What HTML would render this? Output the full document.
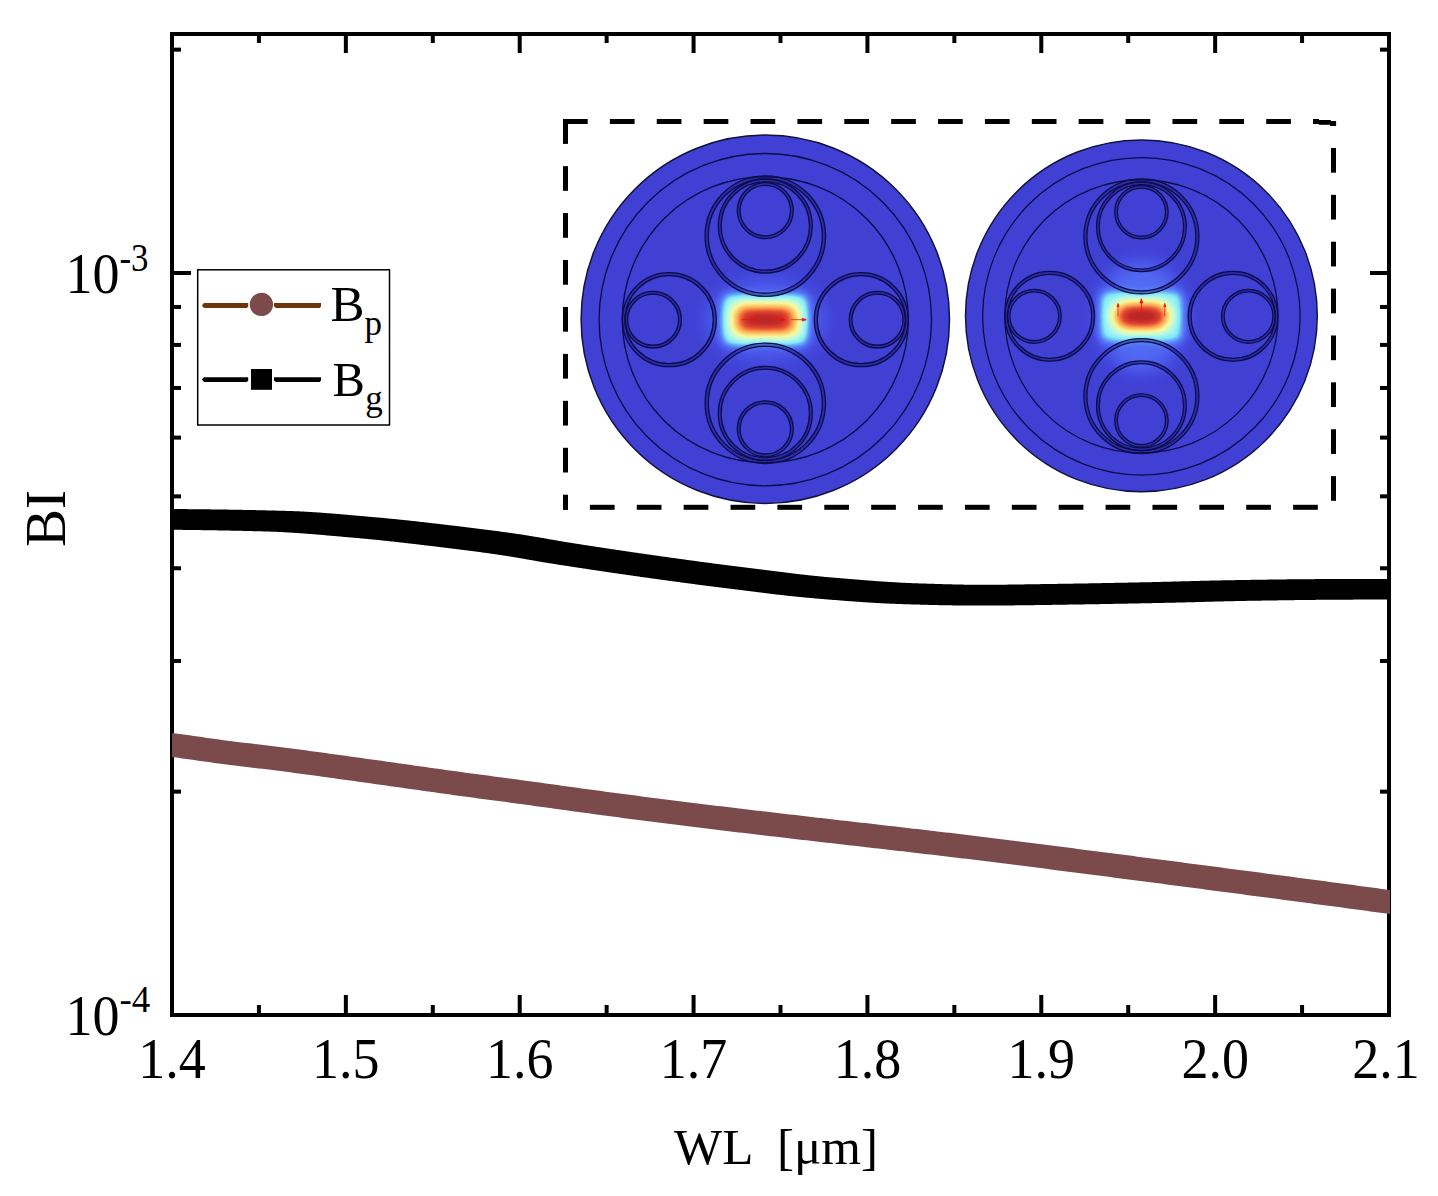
<!DOCTYPE html>
<html lang="en"><head><meta charset="utf-8"><title>BI vs WL</title>
<style>html,body{margin:0;padding:0;background:#fff}svg{display:block}text{font-family:"Liberation Serif",serif;fill:#000}</style></head><body>
<svg width="1438" height="1196" viewBox="0 0 1438 1196">
<rect width="1438" height="1196" fill="#fff"/>
<defs>
<filter id="jet" filterUnits="userSpaceOnUse" x="-110" y="-100" width="220" height="200" color-interpolation-filters="sRGB">
<feComponentTransfer><feFuncR type="table" tableValues="0.251 0.255 0.259 0.265 0.270 0.277 0.284 0.291 0.296 0.302 0.308 0.313 0.318 0.323 0.328 0.333 0.339 0.344 0.350 0.358 0.365 0.372 0.380 0.387 0.397 0.412 0.427 0.442 0.457 0.472 0.487 0.502 0.519 0.537 0.555 0.573 0.591 0.609 0.627 0.646 0.664 0.682 0.700 0.718 0.736 0.753 0.770 0.787 0.803 0.820 0.836 0.853 0.870 0.886 0.903 0.919 0.936 0.952 0.962 0.966 0.969 0.973 0.976 0.979 0.983 0.986 0.988 0.987 0.987 0.986 0.985 0.985 0.984 0.983 0.983 0.982 0.981 0.980 0.975 0.969 0.962 0.956 0.950 0.944 0.934 0.923 0.911 0.900 0.888 0.874 0.858 0.842 0.825 0.809 0.783 0.753 0.735 0.723 0.717 0.711 0.706"/><feFuncG type="table" tableValues="0.251 0.261 0.271 0.284 0.297 0.310 0.324 0.339 0.352 0.365 0.378 0.391 0.406 0.422 0.438 0.454 0.470 0.485 0.509 0.537 0.565 0.592 0.620 0.647 0.676 0.709 0.742 0.775 0.807 0.840 0.873 0.905 0.924 0.928 0.933 0.937 0.942 0.946 0.951 0.956 0.960 0.965 0.969 0.974 0.978 0.980 0.980 0.980 0.980 0.980 0.980 0.980 0.980 0.980 0.980 0.980 0.980 0.980 0.973 0.959 0.945 0.930 0.916 0.901 0.887 0.873 0.857 0.836 0.815 0.795 0.774 0.753 0.733 0.712 0.691 0.671 0.650 0.630 0.599 0.568 0.537 0.506 0.475 0.444 0.413 0.382 0.351 0.321 0.290 0.266 0.250 0.234 0.217 0.201 0.183 0.165 0.159 0.156 0.154 0.151 0.149"/><feFuncB type="table" tableValues="0.831 0.841 0.851 0.864 0.877 0.889 0.900 0.911 0.918 0.925 0.933 0.940 0.945 0.950 0.954 0.958 0.963 0.967 0.970 0.972 0.974 0.975 0.977 0.979 0.980 0.980 0.980 0.980 0.980 0.980 0.980 0.980 0.977 0.969 0.962 0.954 0.946 0.939 0.931 0.924 0.916 0.909 0.901 0.894 0.886 0.873 0.853 0.833 0.814 0.794 0.775 0.755 0.735 0.716 0.696 0.676 0.657 0.637 0.618 0.599 0.580 0.560 0.541 0.522 0.503 0.484 0.466 0.453 0.439 0.425 0.411 0.398 0.384 0.370 0.356 0.343 0.329 0.315 0.303 0.290 0.278 0.265 0.253 0.240 0.229 0.219 0.209 0.199 0.189 0.183 0.179 0.176 0.173 0.170 0.165 0.161 0.158 0.156 0.154 0.151 0.149"/></feComponentTransfer>
</filter>
<filter id="bW" filterUnits="userSpaceOnUse" x="-160" y="-160" width="320" height="320" color-interpolation-filters="sRGB"><feGaussianBlur stdDeviation="10 10"/></filter>
<filter id="bH" filterUnits="userSpaceOnUse" x="-160" y="-160" width="320" height="320" color-interpolation-filters="sRGB"><feGaussianBlur stdDeviation="4.5 4.5"/></filter>
<filter id="bCL" filterUnits="userSpaceOnUse" x="-160" y="-160" width="320" height="320" color-interpolation-filters="sRGB"><feGaussianBlur stdDeviation="7.5 6.5"/></filter>
<filter id="bCR" filterUnits="userSpaceOnUse" x="-160" y="-160" width="320" height="320" color-interpolation-filters="sRGB"><feGaussianBlur stdDeviation="7.5 6.2"/></filter>
<filter id="bB" filterUnits="userSpaceOnUse" x="-160" y="-160" width="320" height="320" color-interpolation-filters="sRGB"><feGaussianBlur stdDeviation="7 5"/></filter>
<clipPath id="notTubes"><path clip-rule="evenodd" d="M-200,-200H200V200H-200ZM-60.2,-83.6a60.2,60.2 0 1,0 120.4,0a60.2,60.2 0 1,0 -120.4,0ZM-60.2,83.6a60.2,60.2 0 1,0 120.4,0a60.2,60.2 0 1,0 -120.4,0ZM-143,0a47,47 0 1,0 94,0a47,47 0 1,0 -94,0ZM49,0a47,47 0 1,0 94,0a47,47 0 1,0 -94,0Z"/></clipPath>
</defs>
<g transform="translate(765.3,319.7)"><circle cy="-0.5" r="184.2" fill="rgb(64,64,212)" stroke="#12123c" stroke-width="1.5"/>
<g filter="url(#jet)"><rect x="-300" y="-300" width="600" height="600" fill="#000"/><g filter="url(#bW)"><ellipse rx="60" ry="40" fill="#fff" fill-opacity="0.1"/></g><g filter="url(#bH)"><rect x="-43" y="-26" width="86" height="52" rx="7" fill="#fff" fill-opacity="0.27" clip-path="url(#notTubes)"/></g><g filter="url(#bCL)"><rect x="-32" y="-15.5" width="64" height="31.0" rx="6" fill="#fff" fill-opacity="0.9"/></g><g filter="url(#bB)"><ellipse rx="18" ry="5" fill="#fff" fill-opacity="0.75"/></g></g><g stroke="#f01010" stroke-width="0.8" fill="#f01010"><path d="M-24,0H-10"/><path d="M-11,-1.2L-8,0L-11,1.2z"/><path d="M0,0H18"/><path d="M16,-1.6L20,0L16,1.6z"/><path d="M26,0H39"/><path d="M37,-1.4L41,0L37,1.4z"/></g>
<g fill="none" stroke="#0c0c48" stroke-width="1.35">
<circle r="166.2"/><circle r="143"/>
</g>
<g fill="none" stroke="#0c0c48" stroke-width="1.3">
<circle cy="-83.6" r="58.6" stroke="#14146e" stroke-opacity="0.45" stroke-width="3.200000000000003"/><circle cy="-83.6" r="60.2"/><circle cy="-83.6" r="57"/>
<circle cy="-93.7" r="45.6" stroke="#14146e" stroke-opacity="0.45" stroke-width="2.799999999999997"/><circle cy="-93.7" r="47"/><circle cy="-93.7" r="44.2"/>
<circle cy="-109.1" r="26.6" stroke="#14146e" stroke-opacity="0.45" stroke-width="2.8000000000000007"/><circle cy="-109.1" r="28"/><circle cy="-109.1" r="25.2"/>
<circle cx="-96" r="45.5" stroke="#14146e" stroke-opacity="0.45" stroke-width="3"/><circle cx="-96" r="47"/><circle cx="-96" r="44"/>
<circle cx="-112.2" r="26.9" stroke="#14146e" stroke-opacity="0.45" stroke-width="2.8000000000000007"/><circle cx="-112.2" r="28.3"/><circle cx="-112.2" r="25.5"/>
<circle cy="83.6" r="58.6" stroke="#14146e" stroke-opacity="0.45" stroke-width="3.200000000000003"/><circle cy="83.6" r="60.2"/><circle cy="83.6" r="57"/>
<circle cy="93.7" r="45.6" stroke="#14146e" stroke-opacity="0.45" stroke-width="2.799999999999997"/><circle cy="93.7" r="47"/><circle cy="93.7" r="44.2"/>
<circle cy="109.1" r="26.6" stroke="#14146e" stroke-opacity="0.45" stroke-width="2.8000000000000007"/><circle cy="109.1" r="28"/><circle cy="109.1" r="25.2"/>
<circle cx="96" r="45.5" stroke="#14146e" stroke-opacity="0.45" stroke-width="3"/><circle cx="96" r="47"/><circle cx="96" r="44"/>
<circle cx="112.2" r="26.9" stroke="#14146e" stroke-opacity="0.45" stroke-width="2.8000000000000007"/><circle cx="112.2" r="28.3"/><circle cx="112.2" r="25.5"/>
</g></g>
<g transform="translate(1141.4,316.3) scale(0.955)"><circle cy="-0.5" r="184.2" fill="rgb(64,64,212)" stroke="#12123c" stroke-width="1.5"/>
<g filter="url(#jet)"><rect x="-300" y="-300" width="600" height="600" fill="#000"/><g filter="url(#bW)"><ellipse rx="46" ry="58" fill="#fff" fill-opacity="0.13"/></g><g filter="url(#bH)"><rect x="-43.5" y="-26" width="87.0" height="52" rx="7" fill="#fff" fill-opacity="0.27" clip-path="url(#notTubes)"/></g><g filter="url(#bCR)"><rect x="-29.5" y="-14.6" width="59.0" height="29.2" rx="14" fill="#fff" fill-opacity="0.9"/></g><g filter="url(#bB)"><ellipse rx="14" ry="6" fill="#fff" fill-opacity="0.75"/></g></g><g stroke="#f01010" stroke-width="0.8" fill="#f01010"><path d="M-24.5,0V-11"/><path d="M-25.6,-10L-24.5,-13.5L-23.4,-10z"/><path d="M0,0V-15"/><path d="M-1.5,-14L0,-18.5L1.5,-14z"/><path d="M24.5,0V-11"/><path d="M23.4,-10L24.5,-13.5L25.6,-10z"/></g>
<g fill="none" stroke="#0c0c48" stroke-width="1.35">
<circle r="166.2"/><circle r="143"/>
</g>
<g fill="none" stroke="#0c0c48" stroke-width="1.3">
<circle cy="-83.6" r="58.6" stroke="#14146e" stroke-opacity="0.45" stroke-width="3.200000000000003"/><circle cy="-83.6" r="60.2"/><circle cy="-83.6" r="57"/>
<circle cy="-93.7" r="45.6" stroke="#14146e" stroke-opacity="0.45" stroke-width="2.799999999999997"/><circle cy="-93.7" r="47"/><circle cy="-93.7" r="44.2"/>
<circle cy="-109.1" r="26.6" stroke="#14146e" stroke-opacity="0.45" stroke-width="2.8000000000000007"/><circle cy="-109.1" r="28"/><circle cy="-109.1" r="25.2"/>
<circle cx="-96" r="45.5" stroke="#14146e" stroke-opacity="0.45" stroke-width="3"/><circle cx="-96" r="47"/><circle cx="-96" r="44"/>
<circle cx="-112.2" r="26.9" stroke="#14146e" stroke-opacity="0.45" stroke-width="2.8000000000000007"/><circle cx="-112.2" r="28.3"/><circle cx="-112.2" r="25.5"/>
<circle cy="83.6" r="58.6" stroke="#14146e" stroke-opacity="0.45" stroke-width="3.200000000000003"/><circle cy="83.6" r="60.2"/><circle cy="83.6" r="57"/>
<circle cy="93.7" r="45.6" stroke="#14146e" stroke-opacity="0.45" stroke-width="2.799999999999997"/><circle cy="93.7" r="47"/><circle cy="93.7" r="44.2"/>
<circle cy="109.1" r="26.6" stroke="#14146e" stroke-opacity="0.45" stroke-width="2.8000000000000007"/><circle cy="109.1" r="28"/><circle cy="109.1" r="25.2"/>
<circle cx="96" r="45.5" stroke="#14146e" stroke-opacity="0.45" stroke-width="3"/><circle cx="96" r="47"/><circle cx="96" r="44"/>
<circle cx="112.2" r="26.9" stroke="#14146e" stroke-opacity="0.45" stroke-width="2.8000000000000007"/><circle cx="112.2" r="28.3"/><circle cx="112.2" r="25.5"/>
</g></g>
<g fill="#000">
<rect x="563.00" y="119.00" width="24.70" height="5"/>
<rect x="609.88" y="119.00" width="24.70" height="5"/>
<rect x="656.76" y="119.00" width="24.70" height="5"/>
<rect x="703.64" y="119.00" width="24.70" height="5"/>
<rect x="750.52" y="119.00" width="24.70" height="5"/>
<rect x="797.40" y="119.00" width="24.70" height="5"/>
<rect x="844.28" y="119.00" width="24.70" height="5"/>
<rect x="891.16" y="119.00" width="24.70" height="5"/>
<rect x="938.04" y="119.00" width="24.70" height="5"/>
<rect x="984.92" y="119.00" width="24.70" height="5"/>
<rect x="1031.80" y="119.00" width="24.70" height="5"/>
<rect x="1078.68" y="119.00" width="24.70" height="5"/>
<rect x="1125.56" y="119.00" width="24.70" height="5"/>
<rect x="1172.44" y="119.00" width="24.70" height="5"/>
<rect x="1219.32" y="119.00" width="24.70" height="5"/>
<rect x="1266.20" y="119.00" width="24.70" height="5"/>
<rect x="1313" y="119" width="6" height="5"/><rect x="1318.8" y="120" width="12" height="4.8"/><rect x="1330" y="121" width="6.1" height="5"/>
<rect x="1331.00" y="147.96" width="5" height="24.70"/>
<rect x="1331.00" y="194.84" width="5" height="24.70"/>
<rect x="1331.00" y="241.72" width="5" height="24.70"/>
<rect x="1331.00" y="288.60" width="5" height="24.70"/>
<rect x="1331.00" y="335.48" width="5" height="24.70"/>
<rect x="1331.00" y="382.36" width="5" height="24.70"/>
<rect x="1331.00" y="429.24" width="5" height="24.70"/>
<rect x="1331.00" y="476.12" width="5" height="24.70"/>
<rect x="1293.10" y="504.80" width="24.70" height="5"/>
<rect x="1246.22" y="504.80" width="24.70" height="5"/>
<rect x="1199.34" y="504.80" width="24.70" height="5"/>
<rect x="1152.46" y="504.80" width="24.70" height="5"/>
<rect x="1105.58" y="504.80" width="24.70" height="5"/>
<rect x="1058.70" y="504.80" width="24.70" height="5"/>
<rect x="1011.82" y="504.80" width="24.70" height="5"/>
<rect x="964.94" y="504.80" width="24.70" height="5"/>
<rect x="918.06" y="504.80" width="24.70" height="5"/>
<rect x="871.18" y="504.80" width="24.70" height="5"/>
<rect x="824.30" y="504.80" width="24.70" height="5"/>
<rect x="777.42" y="504.80" width="24.70" height="5"/>
<rect x="730.54" y="504.80" width="24.70" height="5"/>
<rect x="683.66" y="504.80" width="24.70" height="5"/>
<rect x="636.78" y="504.80" width="24.70" height="5"/>
<rect x="589.90" y="504.80" width="24.70" height="5"/>
<rect x="563.00" y="504.80" width="4.72" height="5"/>
<rect x="563.00" y="119.20" width="5" height="24.70"/>
<rect x="563.00" y="166.14" width="5" height="24.70"/>
<rect x="563.00" y="213.08" width="5" height="24.70"/>
<rect x="563.00" y="260.02" width="5" height="24.70"/>
<rect x="563.00" y="306.96" width="5" height="24.70"/>
<rect x="563.00" y="353.90" width="5" height="24.70"/>
<rect x="563.00" y="400.84" width="5" height="24.70"/>
<rect x="563.00" y="447.78" width="5" height="24.70"/>
<rect x="563.00" y="494.72" width="5" height="15.08"/>
</g>
<rect x="172.0" y="34.0" width="1217.0" height="981.0" fill="none" stroke="#000" stroke-width="4"/>
<g fill="#000">
<rect x="256.93" y="36.0" width="4" height="7"/>
<rect x="256.93" y="1005.0" width="4" height="8"/>
<rect x="343.86" y="36.0" width="4" height="17"/>
<rect x="343.86" y="995.0" width="4" height="18"/>
<rect x="430.79" y="36.0" width="4" height="7"/>
<rect x="430.79" y="1005.0" width="4" height="8"/>
<rect x="517.71" y="36.0" width="4" height="17"/>
<rect x="517.71" y="995.0" width="4" height="18"/>
<rect x="604.64" y="36.0" width="4" height="7"/>
<rect x="604.64" y="1005.0" width="4" height="8"/>
<rect x="691.57" y="36.0" width="4" height="17"/>
<rect x="691.57" y="995.0" width="4" height="18"/>
<rect x="778.50" y="36.0" width="4" height="7"/>
<rect x="778.50" y="1005.0" width="4" height="8"/>
<rect x="865.43" y="36.0" width="4" height="17"/>
<rect x="865.43" y="995.0" width="4" height="18"/>
<rect x="952.36" y="36.0" width="4" height="7"/>
<rect x="952.36" y="1005.0" width="4" height="8"/>
<rect x="1039.29" y="36.0" width="4" height="17"/>
<rect x="1039.29" y="995.0" width="4" height="18"/>
<rect x="1126.21" y="36.0" width="4" height="7"/>
<rect x="1126.21" y="1005.0" width="4" height="8"/>
<rect x="1213.14" y="36.0" width="4" height="17"/>
<rect x="1213.14" y="995.0" width="4" height="18"/>
<rect x="1300.07" y="36.0" width="4" height="7"/>
<rect x="1300.07" y="1005.0" width="4" height="8"/>
<rect x="174.0" y="47.64" width="7" height="4"/>
<rect x="1380.0" y="47.64" width="7" height="4"/>
<rect x="174.0" y="271.00" width="17" height="4"/>
<rect x="1370.0" y="271.00" width="17" height="4"/>
<rect x="174.0" y="789.64" width="7" height="4"/>
<rect x="1380.0" y="789.64" width="7" height="4"/>
<rect x="174.0" y="658.98" width="7" height="4"/>
<rect x="1380.0" y="658.98" width="7" height="4"/>
<rect x="174.0" y="566.27" width="7" height="4"/>
<rect x="1380.0" y="566.27" width="7" height="4"/>
<rect x="174.0" y="494.36" width="7" height="4"/>
<rect x="1380.0" y="494.36" width="7" height="4"/>
<rect x="174.0" y="435.61" width="7" height="4"/>
<rect x="1380.0" y="435.61" width="7" height="4"/>
<rect x="174.0" y="385.94" width="7" height="4"/>
<rect x="1380.0" y="385.94" width="7" height="4"/>
<rect x="174.0" y="342.91" width="7" height="4"/>
<rect x="1380.0" y="342.91" width="7" height="4"/>
<rect x="174.0" y="304.95" width="7" height="4"/>
<rect x="1380.0" y="304.95" width="7" height="4"/>
</g>
<clipPath id="cp"><rect x="172.0" y="34.0" width="1218.0" height="981.0"/></clipPath>
<g clip-path="url(#cp)">
<polygon fill="#000" points="160.0,509.00 161.0,509.00 162.0,509.00 163.0,509.00 164.0,509.00 165.0,509.00 166.0,509.00 167.0,509.00 168.0,509.00 169.0,509.00 170.0,509.00 171.0,509.01 172.0,509.01 173.0,509.02 174.0,509.02 175.0,509.03 176.0,509.04 177.0,509.04 178.0,509.05 179.0,509.06 180.0,509.06 181.0,509.07 182.0,509.08 183.0,509.09 184.0,509.09 185.0,509.10 186.0,509.11 187.0,509.12 188.0,509.13 189.0,509.14 190.0,509.15 191.0,509.16 192.0,509.17 193.0,509.18 194.0,509.19 195.0,509.20 196.0,509.21 197.0,509.22 198.0,509.23 199.0,509.24 200.0,509.25 201.0,509.26 202.0,509.27 203.0,509.29 204.0,509.30 205.0,509.31 206.0,509.32 207.0,509.33 208.0,509.34 209.0,509.36 210.0,509.37 211.0,509.38 212.0,509.39 213.0,509.41 214.0,509.42 215.0,509.43 216.0,509.45 217.0,509.46 218.0,509.47 219.0,509.49 220.0,509.50 221.0,509.52 222.0,509.53 223.0,509.55 224.0,509.56 225.0,509.58 226.0,509.59 227.0,509.61 228.0,509.62 229.0,509.64 230.0,509.65 231.0,509.67 232.0,509.68 233.0,509.70 234.0,509.72 235.0,509.73 236.0,509.75 237.0,509.77 238.0,509.79 239.0,509.80 240.0,509.82 241.0,509.84 242.0,509.86 243.0,509.88 244.0,509.89 245.0,509.91 246.0,509.93 247.0,509.95 248.0,509.97 249.0,509.99 250.0,510.01 251.0,510.03 252.0,510.05 253.0,510.07 254.0,510.09 255.0,510.11 256.0,510.13 257.0,510.16 258.0,510.18 259.0,510.20 260.0,510.22 261.0,510.24 262.0,510.27 263.0,510.29 264.0,510.31 265.0,510.33 266.0,510.36 267.0,510.38 268.0,510.41 269.0,510.43 270.0,510.45 271.0,510.48 272.0,510.50 273.0,510.53 274.0,510.55 275.0,510.58 276.0,510.60 277.0,510.63 278.0,510.66 279.0,510.68 280.0,510.71 281.0,510.74 282.0,510.77 283.0,510.79 284.0,510.82 285.0,510.85 286.0,510.88 287.0,510.91 288.0,510.94 289.0,510.97 290.0,511.00 291.0,511.03 292.0,511.07 293.0,511.11 294.0,511.15 295.0,511.19 296.0,511.23 297.0,511.27 298.0,511.32 299.0,511.37 300.0,511.41 301.0,511.46 302.0,511.51 303.0,511.56 304.0,511.62 305.0,511.67 306.0,511.73 307.0,511.78 308.0,511.84 309.0,511.90 310.0,511.96 311.0,512.02 312.0,512.08 313.0,512.15 314.0,512.21 315.0,512.28 316.0,512.34 317.0,512.41 318.0,512.48 319.0,512.55 320.0,512.62 321.0,512.69 322.0,512.76 323.0,512.83 324.0,512.91 325.0,512.98 326.0,513.06 327.0,513.13 328.0,513.21 329.0,513.29 330.0,513.37 331.0,513.44 332.0,513.52 333.0,513.60 334.0,513.69 335.0,513.77 336.0,513.85 337.0,513.93 338.0,514.01 339.0,514.10 340.0,514.18 341.0,514.27 342.0,514.35 343.0,514.44 344.0,514.52 345.0,514.61 346.0,514.69 347.0,514.78 348.0,514.87 349.0,514.95 350.0,515.04 351.0,515.13 352.0,515.22 353.0,515.30 354.0,515.39 355.0,515.48 356.0,515.57 357.0,515.66 358.0,515.75 359.0,515.84 360.0,515.92 361.0,516.01 362.0,516.10 363.0,516.19 364.0,516.28 365.0,516.37 366.0,516.46 367.0,516.54 368.0,516.63 369.0,516.72 370.0,516.81 371.0,516.90 372.0,516.98 373.0,517.07 374.0,517.16 375.0,517.24 376.0,517.33 377.0,517.42 378.0,517.51 379.0,517.60 380.0,517.69 381.0,517.78 382.0,517.87 383.0,517.96 384.0,518.05 385.0,518.15 386.0,518.24 387.0,518.34 388.0,518.43 389.0,518.53 390.0,518.63 391.0,518.72 392.0,518.82 393.0,518.92 394.0,519.02 395.0,519.12 396.0,519.22 397.0,519.32 398.0,519.42 399.0,519.52 400.0,519.63 401.0,519.73 402.0,519.83 403.0,519.94 404.0,520.04 405.0,520.15 406.0,520.25 407.0,520.36 408.0,520.47 409.0,520.57 410.0,520.68 411.0,520.79 412.0,520.90 413.0,521.01 414.0,521.12 415.0,521.23 416.0,521.34 417.0,521.45 418.0,521.56 419.0,521.67 420.0,521.78 421.0,521.89 422.0,522.01 423.0,522.12 424.0,522.23 425.0,522.35 426.0,522.46 427.0,522.57 428.0,522.69 429.0,522.80 430.0,522.92 431.0,523.03 432.0,523.15 433.0,523.26 434.0,523.38 435.0,523.50 436.0,523.61 437.0,523.73 438.0,523.85 439.0,523.96 440.0,524.08 441.0,524.20 442.0,524.32 443.0,524.44 444.0,524.55 445.0,524.67 446.0,524.79 447.0,524.91 448.0,525.03 449.0,525.15 450.0,525.27 451.0,525.38 452.0,525.50 453.0,525.62 454.0,525.74 455.0,525.86 456.0,525.98 457.0,526.10 458.0,526.22 459.0,526.34 460.0,526.46 461.0,526.58 462.0,526.70 463.0,526.82 464.0,526.94 465.0,527.06 466.0,527.18 467.0,527.30 468.0,527.42 469.0,527.54 470.0,527.67 471.0,527.79 472.0,527.91 473.0,528.03 474.0,528.16 475.0,528.28 476.0,528.40 477.0,528.53 478.0,528.65 479.0,528.78 480.0,528.90 481.0,529.03 482.0,529.16 483.0,529.28 484.0,529.41 485.0,529.54 486.0,529.66 487.0,529.79 488.0,529.92 489.0,530.05 490.0,530.18 491.0,530.31 492.0,530.44 493.0,530.57 494.0,530.70 495.0,530.84 496.0,530.97 497.0,531.10 498.0,531.24 499.0,531.37 500.0,531.50 501.0,531.64 502.0,531.78 503.0,531.91 504.0,532.05 505.0,532.19 506.0,532.33 507.0,532.46 508.0,532.60 509.0,532.74 510.0,532.88 511.0,533.03 512.0,533.17 513.0,533.31 514.0,533.45 515.0,533.60 516.0,533.74 517.0,533.89 518.0,534.03 519.0,534.18 520.0,534.33 521.0,534.47 522.0,534.62 523.0,534.78 524.0,534.93 525.0,535.08 526.0,535.24 527.0,535.40 528.0,535.56 529.0,535.72 530.0,535.88 531.0,536.05 532.0,536.21 533.0,536.38 534.0,536.55 535.0,536.71 536.0,536.88 537.0,537.05 538.0,537.23 539.0,537.40 540.0,537.57 541.0,537.74 542.0,537.92 543.0,538.09 544.0,538.26 545.0,538.44 546.0,538.61 547.0,538.79 548.0,538.96 549.0,539.14 550.0,539.31 551.0,539.49 552.0,539.66 553.0,539.84 554.0,540.01 555.0,540.19 556.0,540.36 557.0,540.53 558.0,540.70 559.0,540.88 560.0,541.05 561.0,541.22 562.0,541.39 563.0,541.55 564.0,541.72 565.0,541.89 566.0,542.05 567.0,542.22 568.0,542.38 569.0,542.54 570.0,542.70 571.0,542.86 572.0,543.02 573.0,543.18 574.0,543.33 575.0,543.49 576.0,543.65 577.0,543.81 578.0,543.96 579.0,544.12 580.0,544.28 581.0,544.43 582.0,544.59 583.0,544.75 584.0,544.90 585.0,545.06 586.0,545.21 587.0,545.37 588.0,545.52 589.0,545.68 590.0,545.83 591.0,545.99 592.0,546.14 593.0,546.29 594.0,546.45 595.0,546.60 596.0,546.75 597.0,546.91 598.0,547.06 599.0,547.21 600.0,547.37 601.0,547.52 602.0,547.67 603.0,547.82 604.0,547.97 605.0,548.12 606.0,548.27 607.0,548.43 608.0,548.58 609.0,548.73 610.0,548.88 611.0,549.03 612.0,549.18 613.0,549.33 614.0,549.48 615.0,549.62 616.0,549.77 617.0,549.92 618.0,550.07 619.0,550.22 620.0,550.37 621.0,550.52 622.0,550.66 623.0,550.81 624.0,550.96 625.0,551.10 626.0,551.25 627.0,551.40 628.0,551.55 629.0,551.69 630.0,551.84 631.0,551.98 632.0,552.13 633.0,552.28 634.0,552.42 635.0,552.57 636.0,552.71 637.0,552.86 638.0,553.00 639.0,553.15 640.0,553.29 641.0,553.43 642.0,553.58 643.0,553.72 644.0,553.86 645.0,554.01 646.0,554.15 647.0,554.29 648.0,554.44 649.0,554.58 650.0,554.72 651.0,554.86 652.0,555.01 653.0,555.15 654.0,555.29 655.0,555.43 656.0,555.57 657.0,555.72 658.0,555.86 659.0,556.00 660.0,556.14 661.0,556.28 662.0,556.42 663.0,556.56 664.0,556.70 665.0,556.84 666.0,556.98 667.0,557.12 668.0,557.26 669.0,557.40 670.0,557.54 671.0,557.68 672.0,557.82 673.0,557.96 674.0,558.10 675.0,558.24 676.0,558.37 677.0,558.51 678.0,558.65 679.0,558.79 680.0,558.93 681.0,559.07 682.0,559.20 683.0,559.34 684.0,559.48 685.0,559.62 686.0,559.75 687.0,559.89 688.0,560.03 689.0,560.16 690.0,560.30 691.0,560.44 692.0,560.57 693.0,560.71 694.0,560.84 695.0,560.98 696.0,561.11 697.0,561.25 698.0,561.38 699.0,561.52 700.0,561.65 701.0,561.79 702.0,561.92 703.0,562.06 704.0,562.19 705.0,562.32 706.0,562.46 707.0,562.59 708.0,562.72 709.0,562.85 710.0,562.99 711.0,563.12 712.0,563.25 713.0,563.38 714.0,563.51 715.0,563.65 716.0,563.78 717.0,563.91 718.0,564.04 719.0,564.17 720.0,564.30 721.0,564.43 722.0,564.56 723.0,564.69 724.0,564.82 725.0,564.95 726.0,565.08 727.0,565.20 728.0,565.33 729.0,565.46 730.0,565.59 731.0,565.72 732.0,565.84 733.0,565.97 734.0,566.10 735.0,566.22 736.0,566.35 737.0,566.48 738.0,566.60 739.0,566.73 740.0,566.85 741.0,566.98 742.0,567.10 743.0,567.23 744.0,567.35 745.0,567.48 746.0,567.60 747.0,567.72 748.0,567.85 749.0,567.97 750.0,568.10 751.0,568.22 752.0,568.35 753.0,568.47 754.0,568.60 755.0,568.72 756.0,568.85 757.0,568.98 758.0,569.10 759.0,569.23 760.0,569.36 761.0,569.48 762.0,569.61 763.0,569.73 764.0,569.86 765.0,569.99 766.0,570.11 767.0,570.24 768.0,570.37 769.0,570.49 770.0,570.62 771.0,570.74 772.0,570.87 773.0,571.00 774.0,571.12 775.0,571.25 776.0,571.37 777.0,571.50 778.0,571.62 779.0,571.75 780.0,571.87 781.0,571.99 782.0,572.12 783.0,572.24 784.0,572.36 785.0,572.49 786.0,572.61 787.0,572.73 788.0,572.85 789.0,572.97 790.0,573.09 791.0,573.21 792.0,573.33 793.0,573.45 794.0,573.57 795.0,573.69 796.0,573.81 797.0,573.92 798.0,574.04 799.0,574.16 800.0,574.27 801.0,574.38 802.0,574.50 803.0,574.61 804.0,574.72 805.0,574.84 806.0,574.95 807.0,575.06 808.0,575.17 809.0,575.28 810.0,575.38 811.0,575.49 812.0,575.60 813.0,575.70 814.0,575.81 815.0,575.91 816.0,576.01 817.0,576.12 818.0,576.22 819.0,576.32 820.0,576.42 821.0,576.51 822.0,576.61 823.0,576.71 824.0,576.80 825.0,576.90 826.0,576.99 827.0,577.08 828.0,577.17 829.0,577.26 830.0,577.35 831.0,577.44 832.0,577.52 833.0,577.61 834.0,577.69 835.0,577.78 836.0,577.86 837.0,577.95 838.0,578.03 839.0,578.12 840.0,578.20 841.0,578.28 842.0,578.37 843.0,578.45 844.0,578.54 845.0,578.62 846.0,578.70 847.0,578.79 848.0,578.87 849.0,578.95 850.0,579.03 851.0,579.12 852.0,579.20 853.0,579.28 854.0,579.36 855.0,579.44 856.0,579.52 857.0,579.61 858.0,579.69 859.0,579.77 860.0,579.85 861.0,579.92 862.0,580.00 863.0,580.08 864.0,580.16 865.0,580.24 866.0,580.32 867.0,580.39 868.0,580.47 869.0,580.54 870.0,580.62 871.0,580.69 872.0,580.77 873.0,580.84 874.0,580.91 875.0,580.99 876.0,581.06 877.0,581.13 878.0,581.20 879.0,581.27 880.0,581.34 881.0,581.41 882.0,581.48 883.0,581.55 884.0,581.61 885.0,581.68 886.0,581.74 887.0,581.81 888.0,581.87 889.0,581.94 890.0,582.00 891.0,582.06 892.0,582.12 893.0,582.18 894.0,582.24 895.0,582.30 896.0,582.35 897.0,582.41 898.0,582.47 899.0,582.52 900.0,582.57 901.0,582.63 902.0,582.68 903.0,582.73 904.0,582.78 905.0,582.83 906.0,582.88 907.0,582.92 908.0,582.97 909.0,583.01 910.0,583.06 911.0,583.10 912.0,583.14 913.0,583.18 914.0,583.22 915.0,583.26 916.0,583.30 917.0,583.33 918.0,583.37 919.0,583.40 920.0,583.43 921.0,583.47 922.0,583.50 923.0,583.53 924.0,583.56 925.0,583.59 926.0,583.62 927.0,583.65 928.0,583.68 929.0,583.71 930.0,583.74 931.0,583.78 932.0,583.81 933.0,583.84 934.0,583.87 935.0,583.90 936.0,583.93 937.0,583.96 938.0,583.98 939.0,584.01 940.0,584.04 941.0,584.07 942.0,584.10 943.0,584.13 944.0,584.16 945.0,584.18 946.0,584.21 947.0,584.24 948.0,584.26 949.0,584.29 950.0,584.32 951.0,584.34 952.0,584.37 953.0,584.39 954.0,584.42 955.0,584.44 956.0,584.46 957.0,584.49 958.0,584.51 959.0,584.53 960.0,584.55 961.0,584.57 962.0,584.59 963.0,584.61 964.0,584.63 965.0,584.65 966.0,584.67 967.0,584.69 968.0,584.70 969.0,584.72 970.0,584.74 971.0,584.75 972.0,584.77 973.0,584.78 974.0,584.79 975.0,584.81 976.0,584.82 977.0,584.83 978.0,584.84 979.0,584.85 980.0,584.86 981.0,584.86 982.0,584.87 983.0,584.86 984.0,584.86 985.0,584.85 986.0,584.84 987.0,584.84 988.0,584.83 989.0,584.82 990.0,584.81 991.0,584.80 992.0,584.80 993.0,584.79 994.0,584.78 995.0,584.77 996.0,584.76 997.0,584.75 998.0,584.74 999.0,584.73 1000.0,584.71 1001.0,584.70 1002.0,584.69 1003.0,584.68 1004.0,584.67 1005.0,584.66 1006.0,584.64 1007.0,584.63 1008.0,584.62 1009.0,584.60 1010.0,584.59 1011.0,584.58 1012.0,584.56 1013.0,584.55 1014.0,584.54 1015.0,584.52 1016.0,584.51 1017.0,584.49 1018.0,584.48 1019.0,584.46 1020.0,584.45 1021.0,584.43 1022.0,584.42 1023.0,584.40 1024.0,584.39 1025.0,584.37 1026.0,584.36 1027.0,584.34 1028.0,584.33 1029.0,584.31 1030.0,584.29 1031.0,584.28 1032.0,584.26 1033.0,584.25 1034.0,584.23 1035.0,584.21 1036.0,584.20 1037.0,584.18 1038.0,584.17 1039.0,584.15 1040.0,584.14 1041.0,584.12 1042.0,584.10 1043.0,584.09 1044.0,584.07 1045.0,584.06 1046.0,584.04 1047.0,584.03 1048.0,584.01 1049.0,584.00 1050.0,583.98 1051.0,583.97 1052.0,583.95 1053.0,583.94 1054.0,583.92 1055.0,583.91 1056.0,583.89 1057.0,583.88 1058.0,583.87 1059.0,583.85 1060.0,583.84 1061.0,583.82 1062.0,583.81 1063.0,583.79 1064.0,583.78 1065.0,583.76 1066.0,583.75 1067.0,583.73 1068.0,583.71 1069.0,583.70 1070.0,583.68 1071.0,583.67 1072.0,583.65 1073.0,583.63 1074.0,583.62 1075.0,583.60 1076.0,583.58 1077.0,583.57 1078.0,583.55 1079.0,583.53 1080.0,583.52 1081.0,583.50 1082.0,583.48 1083.0,583.47 1084.0,583.45 1085.0,583.43 1086.0,583.41 1087.0,583.40 1088.0,583.38 1089.0,583.36 1090.0,583.34 1091.0,583.32 1092.0,583.31 1093.0,583.29 1094.0,583.27 1095.0,583.25 1096.0,583.23 1097.0,583.22 1098.0,583.20 1099.0,583.18 1100.0,583.16 1101.0,583.14 1102.0,583.12 1103.0,583.10 1104.0,583.08 1105.0,583.07 1106.0,583.05 1107.0,583.03 1108.0,583.01 1109.0,582.99 1110.0,582.97 1111.0,582.95 1112.0,582.93 1113.0,582.91 1114.0,582.89 1115.0,582.87 1116.0,582.85 1117.0,582.83 1118.0,582.81 1119.0,582.79 1120.0,582.77 1121.0,582.75 1122.0,582.73 1123.0,582.71 1124.0,582.69 1125.0,582.67 1126.0,582.65 1127.0,582.63 1128.0,582.61 1129.0,582.59 1130.0,582.57 1131.0,582.55 1132.0,582.53 1133.0,582.51 1134.0,582.49 1135.0,582.47 1136.0,582.45 1137.0,582.43 1138.0,582.41 1139.0,582.39 1140.0,582.37 1141.0,582.35 1142.0,582.32 1143.0,582.30 1144.0,582.28 1145.0,582.26 1146.0,582.24 1147.0,582.22 1148.0,582.20 1149.0,582.17 1150.0,582.15 1151.0,582.13 1152.0,582.11 1153.0,582.08 1154.0,582.06 1155.0,582.04 1156.0,582.01 1157.0,581.99 1158.0,581.96 1159.0,581.94 1160.0,581.91 1161.0,581.89 1162.0,581.86 1163.0,581.84 1164.0,581.81 1165.0,581.79 1166.0,581.76 1167.0,581.74 1168.0,581.71 1169.0,581.68 1170.0,581.66 1171.0,581.63 1172.0,581.60 1173.0,581.58 1174.0,581.55 1175.0,581.53 1176.0,581.50 1177.0,581.47 1178.0,581.45 1179.0,581.42 1180.0,581.39 1181.0,581.37 1182.0,581.34 1183.0,581.31 1184.0,581.28 1185.0,581.26 1186.0,581.23 1187.0,581.20 1188.0,581.18 1189.0,581.15 1190.0,581.13 1191.0,581.10 1192.0,581.07 1193.0,581.05 1194.0,581.02 1195.0,580.99 1196.0,580.97 1197.0,580.94 1198.0,580.92 1199.0,580.89 1200.0,580.87 1201.0,580.84 1202.0,580.82 1203.0,580.79 1204.0,580.77 1205.0,580.74 1206.0,580.72 1207.0,580.69 1208.0,580.67 1209.0,580.65 1210.0,580.62 1211.0,580.60 1212.0,580.58 1213.0,580.55 1214.0,580.53 1215.0,580.51 1216.0,580.49 1217.0,580.47 1218.0,580.44 1219.0,580.42 1220.0,580.40 1221.0,580.38 1222.0,580.36 1223.0,580.34 1224.0,580.32 1225.0,580.30 1226.0,580.29 1227.0,580.27 1228.0,580.25 1229.0,580.23 1230.0,580.21 1231.0,580.20 1232.0,580.18 1233.0,580.17 1234.0,580.15 1235.0,580.13 1236.0,580.12 1237.0,580.10 1238.0,580.08 1239.0,580.07 1240.0,580.05 1241.0,580.03 1242.0,580.02 1243.0,580.00 1244.0,579.99 1245.0,579.97 1246.0,579.95 1247.0,579.94 1248.0,579.92 1249.0,579.91 1250.0,579.89 1251.0,579.87 1252.0,579.86 1253.0,579.84 1254.0,579.83 1255.0,579.81 1256.0,579.80 1257.0,579.78 1258.0,579.77 1259.0,579.75 1260.0,579.74 1261.0,579.72 1262.0,579.71 1263.0,579.69 1264.0,579.68 1265.0,579.66 1266.0,579.65 1267.0,579.63 1268.0,579.62 1269.0,579.60 1270.0,579.59 1271.0,579.58 1272.0,579.56 1273.0,579.55 1274.0,579.54 1275.0,579.52 1276.0,579.51 1277.0,579.50 1278.0,579.48 1279.0,579.47 1280.0,579.46 1281.0,579.44 1282.0,579.43 1283.0,579.42 1284.0,579.41 1285.0,579.40 1286.0,579.38 1287.0,579.37 1288.0,579.36 1289.0,579.35 1290.0,579.34 1291.0,579.33 1292.0,579.32 1293.0,579.31 1294.0,579.29 1295.0,579.28 1296.0,579.27 1297.0,579.26 1298.0,579.25 1299.0,579.24 1300.0,579.24 1301.0,579.23 1302.0,579.22 1303.0,579.21 1304.0,579.20 1305.0,579.19 1306.0,579.18 1307.0,579.18 1308.0,579.17 1309.0,579.16 1310.0,579.15 1311.0,579.15 1312.0,579.14 1313.0,579.13 1314.0,579.13 1315.0,579.12 1316.0,579.11 1317.0,579.11 1318.0,579.10 1319.0,579.10 1320.0,579.09 1321.0,579.09 1322.0,579.08 1323.0,579.08 1324.0,579.07 1325.0,579.07 1326.0,579.06 1327.0,579.06 1328.0,579.05 1329.0,579.05 1330.0,579.04 1331.0,579.04 1332.0,579.03 1333.0,579.03 1334.0,579.02 1335.0,579.02 1336.0,579.01 1337.0,579.01 1338.0,579.00 1339.0,579.00 1340.0,578.99 1341.0,578.99 1342.0,578.99 1343.0,578.98 1344.0,578.98 1345.0,578.97 1346.0,578.97 1347.0,578.97 1348.0,578.96 1349.0,578.96 1350.0,578.95 1351.0,578.95 1352.0,578.95 1353.0,578.94 1354.0,578.94 1355.0,578.94 1356.0,578.93 1357.0,578.93 1358.0,578.93 1359.0,578.93 1360.0,578.92 1361.0,578.92 1362.0,578.92 1363.0,578.92 1364.0,578.91 1365.0,578.91 1366.0,578.91 1367.0,578.91 1368.0,578.91 1369.0,578.91 1370.0,578.90 1371.0,578.90 1372.0,578.90 1373.0,578.90 1374.0,578.90 1375.0,578.90 1376.0,578.90 1377.0,578.90 1378.0,578.90 1379.0,578.90 1380.0,578.90 1381.0,578.90 1382.0,578.90 1383.0,578.90 1384.0,578.90 1385.0,578.90 1386.0,578.90 1387.0,578.90 1388.0,578.90 1389.0,578.90 1390.0,578.90 1391.0,578.90 1392.0,578.90 1393.0,578.90 1394.0,578.90 1395.0,578.90 1396.0,578.90 1397.0,578.90 1398.0,578.90 1399.0,578.90 1400.0,578.90 1400.0,599.50 1399.0,599.50 1398.0,599.50 1397.0,599.50 1396.0,599.50 1395.0,599.50 1394.0,599.50 1393.0,599.50 1392.0,599.50 1391.0,599.50 1390.0,599.50 1389.0,599.51 1388.0,599.51 1387.0,599.51 1386.0,599.51 1385.0,599.51 1384.0,599.51 1383.0,599.52 1382.0,599.52 1381.0,599.52 1380.0,599.52 1379.0,599.53 1378.0,599.53 1377.0,599.53 1376.0,599.53 1375.0,599.54 1374.0,599.54 1373.0,599.54 1372.0,599.55 1371.0,599.55 1370.0,599.55 1369.0,599.56 1368.0,599.56 1367.0,599.57 1366.0,599.57 1365.0,599.57 1364.0,599.58 1363.0,599.58 1362.0,599.59 1361.0,599.59 1360.0,599.59 1359.0,599.60 1358.0,599.60 1357.0,599.61 1356.0,599.61 1355.0,599.62 1354.0,599.62 1353.0,599.63 1352.0,599.63 1351.0,599.64 1350.0,599.64 1349.0,599.65 1348.0,599.65 1347.0,599.66 1346.0,599.66 1345.0,599.67 1344.0,599.67 1343.0,599.68 1342.0,599.68 1341.0,599.69 1340.0,599.69 1339.0,599.70 1338.0,599.70 1337.0,599.71 1336.0,599.71 1335.0,599.72 1334.0,599.73 1333.0,599.73 1332.0,599.74 1331.0,599.75 1330.0,599.75 1329.0,599.76 1328.0,599.77 1327.0,599.78 1326.0,599.78 1325.0,599.79 1324.0,599.80 1323.0,599.81 1322.0,599.82 1321.0,599.83 1320.0,599.84 1319.0,599.84 1318.0,599.85 1317.0,599.86 1316.0,599.87 1315.0,599.88 1314.0,599.89 1313.0,599.91 1312.0,599.92 1311.0,599.93 1310.0,599.94 1309.0,599.95 1308.0,599.96 1307.0,599.97 1306.0,599.98 1305.0,600.00 1304.0,600.01 1303.0,600.02 1302.0,600.03 1301.0,600.04 1300.0,600.06 1299.0,600.07 1298.0,600.08 1297.0,600.10 1296.0,600.11 1295.0,600.12 1294.0,600.14 1293.0,600.15 1292.0,600.16 1291.0,600.18 1290.0,600.19 1289.0,600.20 1288.0,600.22 1287.0,600.23 1286.0,600.25 1285.0,600.26 1284.0,600.28 1283.0,600.29 1282.0,600.31 1281.0,600.32 1280.0,600.34 1279.0,600.35 1278.0,600.37 1277.0,600.38 1276.0,600.40 1275.0,600.41 1274.0,600.43 1273.0,600.44 1272.0,600.46 1271.0,600.47 1270.0,600.49 1269.0,600.51 1268.0,600.52 1267.0,600.54 1266.0,600.55 1265.0,600.57 1264.0,600.59 1263.0,600.60 1262.0,600.62 1261.0,600.63 1260.0,600.65 1259.0,600.67 1258.0,600.68 1257.0,600.70 1256.0,600.72 1255.0,600.73 1254.0,600.75 1253.0,600.77 1252.0,600.78 1251.0,600.80 1250.0,600.81 1249.0,600.83 1248.0,600.85 1247.0,600.87 1246.0,600.89 1245.0,600.90 1244.0,600.92 1243.0,600.94 1242.0,600.96 1241.0,600.98 1240.0,601.00 1239.0,601.02 1238.0,601.04 1237.0,601.07 1236.0,601.09 1235.0,601.11 1234.0,601.13 1233.0,601.15 1232.0,601.18 1231.0,601.20 1230.0,601.22 1229.0,601.25 1228.0,601.27 1227.0,601.29 1226.0,601.32 1225.0,601.34 1224.0,601.37 1223.0,601.39 1222.0,601.42 1221.0,601.44 1220.0,601.47 1219.0,601.49 1218.0,601.52 1217.0,601.54 1216.0,601.57 1215.0,601.59 1214.0,601.62 1213.0,601.65 1212.0,601.67 1211.0,601.70 1210.0,601.73 1209.0,601.75 1208.0,601.78 1207.0,601.80 1206.0,601.83 1205.0,601.86 1204.0,601.88 1203.0,601.91 1202.0,601.94 1201.0,601.97 1200.0,601.99 1199.0,602.02 1198.0,602.05 1197.0,602.07 1196.0,602.10 1195.0,602.13 1194.0,602.15 1193.0,602.18 1192.0,602.20 1191.0,602.23 1190.0,602.26 1189.0,602.28 1188.0,602.31 1187.0,602.34 1186.0,602.36 1185.0,602.39 1184.0,602.41 1183.0,602.44 1182.0,602.46 1181.0,602.49 1180.0,602.51 1179.0,602.54 1178.0,602.56 1177.0,602.59 1176.0,602.61 1175.0,602.64 1174.0,602.66 1173.0,602.68 1172.0,602.71 1171.0,602.73 1170.0,602.75 1169.0,602.77 1168.0,602.80 1167.0,602.82 1166.0,602.84 1165.0,602.86 1164.0,602.88 1163.0,602.90 1162.0,602.92 1161.0,602.95 1160.0,602.97 1159.0,602.99 1158.0,603.01 1157.0,603.03 1156.0,603.05 1155.0,603.07 1154.0,603.09 1153.0,603.11 1152.0,603.13 1151.0,603.15 1150.0,603.17 1149.0,603.19 1148.0,603.21 1147.0,603.23 1146.0,603.25 1145.0,603.27 1144.0,603.29 1143.0,603.31 1142.0,603.33 1141.0,603.35 1140.0,603.37 1139.0,603.39 1138.0,603.41 1137.0,603.43 1136.0,603.45 1135.0,603.47 1134.0,603.49 1133.0,603.51 1132.0,603.53 1131.0,603.55 1130.0,603.57 1129.0,603.59 1128.0,603.61 1127.0,603.63 1126.0,603.65 1125.0,603.67 1124.0,603.68 1123.0,603.70 1122.0,603.72 1121.0,603.74 1120.0,603.76 1119.0,603.78 1118.0,603.80 1117.0,603.82 1116.0,603.83 1115.0,603.85 1114.0,603.87 1113.0,603.89 1112.0,603.91 1111.0,603.92 1110.0,603.94 1109.0,603.96 1108.0,603.98 1107.0,604.00 1106.0,604.01 1105.0,604.03 1104.0,604.05 1103.0,604.07 1102.0,604.08 1101.0,604.10 1100.0,604.12 1099.0,604.13 1098.0,604.15 1097.0,604.17 1096.0,604.18 1095.0,604.20 1094.0,604.22 1093.0,604.23 1092.0,604.25 1091.0,604.27 1090.0,604.28 1089.0,604.30 1088.0,604.31 1087.0,604.33 1086.0,604.35 1085.0,604.36 1084.0,604.38 1083.0,604.39 1082.0,604.41 1081.0,604.42 1080.0,604.44 1079.0,604.45 1078.0,604.47 1077.0,604.48 1076.0,604.49 1075.0,604.51 1074.0,604.52 1073.0,604.54 1072.0,604.55 1071.0,604.57 1070.0,604.58 1069.0,604.60 1068.0,604.61 1067.0,604.63 1066.0,604.64 1065.0,604.66 1064.0,604.67 1063.0,604.69 1062.0,604.70 1061.0,604.72 1060.0,604.74 1059.0,604.75 1058.0,604.77 1057.0,604.78 1056.0,604.80 1055.0,604.81 1054.0,604.83 1053.0,604.85 1052.0,604.86 1051.0,604.88 1050.0,604.89 1049.0,604.91 1048.0,604.93 1047.0,604.94 1046.0,604.96 1045.0,604.97 1044.0,604.99 1043.0,605.00 1042.0,605.02 1041.0,605.03 1040.0,605.05 1039.0,605.06 1038.0,605.08 1037.0,605.09 1036.0,605.11 1035.0,605.12 1034.0,605.14 1033.0,605.15 1032.0,605.16 1031.0,605.18 1030.0,605.19 1029.0,605.20 1028.0,605.22 1027.0,605.23 1026.0,605.24 1025.0,605.26 1024.0,605.27 1023.0,605.28 1022.0,605.29 1021.0,605.30 1020.0,605.31 1019.0,605.33 1018.0,605.34 1017.0,605.35 1016.0,605.36 1015.0,605.37 1014.0,605.38 1013.0,605.39 1012.0,605.40 1011.0,605.40 1010.0,605.41 1009.0,605.42 1008.0,605.43 1007.0,605.44 1006.0,605.44 1005.0,605.45 1004.0,605.46 1003.0,605.46 1002.0,605.47 1001.0,605.47 1000.0,605.48 999.0,605.48 998.0,605.49 997.0,605.49 996.0,605.49 995.0,605.49 994.0,605.50 993.0,605.50 992.0,605.50 991.0,605.50 990.0,605.50 989.0,605.50 988.0,605.50 987.0,605.50 986.0,605.50 985.0,605.50 984.0,605.50 983.0,605.50 982.0,605.50 981.0,605.50 980.0,605.50 979.0,605.50 978.0,605.50 977.0,605.50 976.0,605.50 975.0,605.50 974.0,605.50 973.0,605.50 972.0,605.50 971.0,605.50 970.0,605.50 969.0,605.50 968.0,605.50 967.0,605.50 966.0,605.49 965.0,605.49 964.0,605.48 963.0,605.48 962.0,605.47 961.0,605.46 960.0,605.46 959.0,605.45 958.0,605.44 957.0,605.43 956.0,605.42 955.0,605.41 954.0,605.39 953.0,605.38 952.0,605.37 951.0,605.35 950.0,605.34 949.0,605.32 948.0,605.30 947.0,605.29 946.0,605.27 945.0,605.25 944.0,605.23 943.0,605.21 942.0,605.19 941.0,605.17 940.0,605.15 939.0,605.13 938.0,605.11 937.0,605.09 936.0,605.06 935.0,605.04 934.0,605.02 933.0,604.99 932.0,604.97 931.0,604.94 930.0,604.92 929.0,604.89 928.0,604.86 927.0,604.84 926.0,604.81 925.0,604.78 924.0,604.76 923.0,604.73 922.0,604.70 921.0,604.67 920.0,604.64 919.0,604.61 918.0,604.58 917.0,604.56 916.0,604.53 915.0,604.50 914.0,604.47 913.0,604.44 912.0,604.41 911.0,604.38 910.0,604.34 909.0,604.31 908.0,604.28 907.0,604.25 906.0,604.22 905.0,604.19 904.0,604.16 903.0,604.13 902.0,604.10 901.0,604.07 900.0,604.03 899.0,604.00 898.0,603.97 897.0,603.93 896.0,603.90 895.0,603.86 894.0,603.82 893.0,603.78 892.0,603.74 891.0,603.70 890.0,603.66 889.0,603.61 888.0,603.57 887.0,603.52 886.0,603.48 885.0,603.43 884.0,603.38 883.0,603.33 882.0,603.28 881.0,603.23 880.0,603.17 879.0,603.12 878.0,603.07 877.0,603.01 876.0,602.95 875.0,602.90 874.0,602.84 873.0,602.78 872.0,602.72 871.0,602.66 870.0,602.60 869.0,602.54 868.0,602.47 867.0,602.41 866.0,602.34 865.0,602.28 864.0,602.21 863.0,602.15 862.0,602.08 861.0,602.01 860.0,601.94 859.0,601.87 858.0,601.80 857.0,601.73 856.0,601.66 855.0,601.59 854.0,601.51 853.0,601.44 852.0,601.37 851.0,601.29 850.0,601.22 849.0,601.14 848.0,601.07 847.0,600.99 846.0,600.92 845.0,600.84 844.0,600.76 843.0,600.68 842.0,600.60 841.0,600.52 840.0,600.45 839.0,600.37 838.0,600.29 837.0,600.21 836.0,600.12 835.0,600.04 834.0,599.96 833.0,599.88 832.0,599.80 831.0,599.72 830.0,599.63 829.0,599.55 828.0,599.47 827.0,599.39 826.0,599.30 825.0,599.22 824.0,599.14 823.0,599.05 822.0,598.97 821.0,598.88 820.0,598.80 819.0,598.72 818.0,598.63 817.0,598.55 816.0,598.46 815.0,598.38 814.0,598.29 813.0,598.21 812.0,598.12 811.0,598.04 810.0,597.95 809.0,597.86 808.0,597.77 807.0,597.68 806.0,597.59 805.0,597.50 804.0,597.40 803.0,597.31 802.0,597.21 801.0,597.11 800.0,597.02 799.0,596.92 798.0,596.82 797.0,596.72 796.0,596.61 795.0,596.51 794.0,596.41 793.0,596.30 792.0,596.20 791.0,596.09 790.0,595.98 789.0,595.88 788.0,595.77 787.0,595.66 786.0,595.55 785.0,595.44 784.0,595.32 783.0,595.21 782.0,595.10 781.0,594.98 780.0,594.87 779.0,594.76 778.0,594.64 777.0,594.52 776.0,594.41 775.0,594.29 774.0,594.17 773.0,594.05 772.0,593.93 771.0,593.81 770.0,593.69 769.0,593.57 768.0,593.45 767.0,593.33 766.0,593.21 765.0,593.09 764.0,592.96 763.0,592.84 762.0,592.72 761.0,592.59 760.0,592.47 759.0,592.35 758.0,592.22 757.0,592.10 756.0,591.97 755.0,591.85 754.0,591.72 753.0,591.60 752.0,591.47 751.0,591.34 750.0,591.22 749.0,591.09 748.0,590.97 747.0,590.84 746.0,590.71 745.0,590.59 744.0,590.46 743.0,590.33 742.0,590.21 741.0,590.08 740.0,589.96 739.0,589.83 738.0,589.70 737.0,589.58 736.0,589.45 735.0,589.32 734.0,589.20 733.0,589.07 732.0,588.95 731.0,588.82 730.0,588.70 729.0,588.57 728.0,588.45 727.0,588.32 726.0,588.20 725.0,588.08 724.0,587.95 723.0,587.83 722.0,587.70 721.0,587.58 720.0,587.45 719.0,587.33 718.0,587.20 717.0,587.08 716.0,586.95 715.0,586.82 714.0,586.70 713.0,586.57 712.0,586.44 711.0,586.32 710.0,586.19 709.0,586.06 708.0,585.93 707.0,585.80 706.0,585.68 705.0,585.55 704.0,585.42 703.0,585.29 702.0,585.16 701.0,585.03 700.0,584.90 699.0,584.77 698.0,584.64 697.0,584.51 696.0,584.38 695.0,584.25 694.0,584.11 693.0,583.98 692.0,583.85 691.0,583.72 690.0,583.59 689.0,583.45 688.0,583.32 687.0,583.19 686.0,583.06 685.0,582.92 684.0,582.79 683.0,582.66 682.0,582.52 681.0,582.39 680.0,582.25 679.0,582.12 678.0,581.98 677.0,581.85 676.0,581.71 675.0,581.58 674.0,581.44 673.0,581.31 672.0,581.17 671.0,581.04 670.0,580.90 669.0,580.76 668.0,580.63 667.0,580.49 666.0,580.35 665.0,580.22 664.0,580.08 663.0,579.94 662.0,579.80 661.0,579.67 660.0,579.53 659.0,579.39 658.0,579.25 657.0,579.11 656.0,578.97 655.0,578.84 654.0,578.70 653.0,578.56 652.0,578.42 651.0,578.28 650.0,578.14 649.0,578.00 648.0,577.86 647.0,577.72 646.0,577.58 645.0,577.44 644.0,577.30 643.0,577.16 642.0,577.02 641.0,576.88 640.0,576.74 639.0,576.60 638.0,576.46 637.0,576.32 636.0,576.17 635.0,576.03 634.0,575.89 633.0,575.75 632.0,575.61 631.0,575.46 630.0,575.32 629.0,575.18 628.0,575.04 627.0,574.89 626.0,574.75 625.0,574.61 624.0,574.46 623.0,574.32 622.0,574.18 621.0,574.03 620.0,573.89 619.0,573.75 618.0,573.60 617.0,573.46 616.0,573.31 615.0,573.17 614.0,573.02 613.0,572.88 612.0,572.73 611.0,572.58 610.0,572.44 609.0,572.29 608.0,572.15 607.0,572.00 606.0,571.85 605.0,571.70 604.0,571.56 603.0,571.41 602.0,571.26 601.0,571.12 600.0,570.97 599.0,570.82 598.0,570.67 597.0,570.52 596.0,570.37 595.0,570.22 594.0,570.08 593.0,569.93 592.0,569.78 591.0,569.63 590.0,569.48 589.0,569.33 588.0,569.18 587.0,569.03 586.0,568.87 585.0,568.72 584.0,568.57 583.0,568.42 582.0,568.27 581.0,568.12 580.0,567.97 579.0,567.81 578.0,567.66 577.0,567.51 576.0,567.35 575.0,567.20 574.0,567.05 573.0,566.89 572.0,566.74 571.0,566.59 570.0,566.43 569.0,566.28 568.0,566.12 567.0,565.97 566.0,565.81 565.0,565.66 564.0,565.50 563.0,565.35 562.0,565.19 561.0,565.03 560.0,564.88 559.0,564.72 558.0,564.56 557.0,564.41 556.0,564.25 555.0,564.09 554.0,563.93 553.0,563.78 552.0,563.62 551.0,563.46 550.0,563.30 549.0,563.14 548.0,562.98 547.0,562.82 546.0,562.65 545.0,562.49 544.0,562.32 543.0,562.15 542.0,561.99 541.0,561.82 540.0,561.65 539.0,561.48 538.0,561.30 537.0,561.13 536.0,560.96 535.0,560.79 534.0,560.61 533.0,560.44 532.0,560.26 531.0,560.09 530.0,559.91 529.0,559.74 528.0,559.56 527.0,559.39 526.0,559.21 525.0,559.04 524.0,558.86 523.0,558.69 522.0,558.52 521.0,558.34 520.0,558.17 519.0,558.00 518.0,557.83 517.0,557.65 516.0,557.48 515.0,557.31 514.0,557.15 513.0,556.98 512.0,556.81 511.0,556.65 510.0,556.48 509.0,556.32 508.0,556.16 507.0,556.00 506.0,555.84 505.0,555.68 504.0,555.53 503.0,555.38 502.0,555.22 501.0,555.07 500.0,554.93 499.0,554.78 498.0,554.63 497.0,554.49 496.0,554.34 495.0,554.20 494.0,554.05 493.0,553.91 492.0,553.77 491.0,553.63 490.0,553.48 489.0,553.34 488.0,553.20 487.0,553.06 486.0,552.93 485.0,552.79 484.0,552.65 483.0,552.51 482.0,552.38 481.0,552.24 480.0,552.10 479.0,551.97 478.0,551.84 477.0,551.70 476.0,551.57 475.0,551.44 474.0,551.30 473.0,551.17 472.0,551.04 471.0,550.91 470.0,550.78 469.0,550.65 468.0,550.52 467.0,550.39 466.0,550.26 465.0,550.14 464.0,550.01 463.0,549.88 462.0,549.76 461.0,549.63 460.0,549.50 459.0,549.38 458.0,549.25 457.0,549.13 456.0,549.00 455.0,548.88 454.0,548.76 453.0,548.63 452.0,548.51 451.0,548.39 450.0,548.27 449.0,548.14 448.0,548.02 447.0,547.90 446.0,547.78 445.0,547.66 444.0,547.54 443.0,547.42 442.0,547.30 441.0,547.18 440.0,547.06 439.0,546.94 438.0,546.82 437.0,546.70 436.0,546.58 435.0,546.46 434.0,546.34 433.0,546.22 432.0,546.10 431.0,545.98 430.0,545.87 429.0,545.75 428.0,545.63 427.0,545.51 426.0,545.39 425.0,545.27 424.0,545.15 423.0,545.04 422.0,544.92 421.0,544.80 420.0,544.68 419.0,544.56 418.0,544.45 417.0,544.33 416.0,544.21 415.0,544.10 414.0,543.98 413.0,543.86 412.0,543.75 411.0,543.63 410.0,543.52 409.0,543.40 408.0,543.29 407.0,543.17 406.0,543.06 405.0,542.95 404.0,542.83 403.0,542.72 402.0,542.61 401.0,542.49 400.0,542.38 399.0,542.27 398.0,542.16 397.0,542.05 396.0,541.94 395.0,541.83 394.0,541.72 393.0,541.61 392.0,541.50 391.0,541.39 390.0,541.28 389.0,541.17 388.0,541.07 387.0,540.96 386.0,540.85 385.0,540.75 384.0,540.64 383.0,540.54 382.0,540.43 381.0,540.33 380.0,540.23 379.0,540.12 378.0,540.02 377.0,539.92 376.0,539.82 375.0,539.72 374.0,539.62 373.0,539.52 372.0,539.42 371.0,539.32 370.0,539.23 369.0,539.13 368.0,539.03 367.0,538.94 366.0,538.84 365.0,538.75 364.0,538.65 363.0,538.56 362.0,538.47 361.0,538.38 360.0,538.29 359.0,538.20 358.0,538.11 357.0,538.02 356.0,537.93 355.0,537.84 354.0,537.76 353.0,537.67 352.0,537.58 351.0,537.50 350.0,537.41 349.0,537.32 348.0,537.23 347.0,537.14 346.0,537.06 345.0,536.97 344.0,536.88 343.0,536.79 342.0,536.70 341.0,536.61 340.0,536.52 339.0,536.44 338.0,536.35 337.0,536.26 336.0,536.17 335.0,536.08 334.0,535.99 333.0,535.90 332.0,535.82 331.0,535.73 330.0,535.64 329.0,535.55 328.0,535.47 327.0,535.38 326.0,535.29 325.0,535.21 324.0,535.12 323.0,535.04 322.0,534.95 321.0,534.87 320.0,534.78 319.0,534.70 318.0,534.61 317.0,534.53 316.0,534.45 315.0,534.37 314.0,534.29 313.0,534.20 312.0,534.12 311.0,534.04 310.0,533.97 309.0,533.89 308.0,533.81 307.0,533.73 306.0,533.66 305.0,533.58 304.0,533.51 303.0,533.43 302.0,533.36 301.0,533.29 300.0,533.22 299.0,533.15 298.0,533.08 297.0,533.01 296.0,532.94 295.0,532.88 294.0,532.81 293.0,532.75 292.0,532.68 291.0,532.62 290.0,532.56 289.0,532.50 288.0,532.44 287.0,532.38 286.0,532.33 285.0,532.27 284.0,532.22 283.0,532.16 282.0,532.11 281.0,532.06 280.0,532.01 279.0,531.97 278.0,531.92 277.0,531.87 276.0,531.83 275.0,531.79 274.0,531.75 273.0,531.71 272.0,531.67 271.0,531.63 270.0,531.60 269.0,531.57 268.0,531.54 267.0,531.51 266.0,531.48 265.0,531.45 264.0,531.42 263.0,531.39 262.0,531.37 261.0,531.34 260.0,531.31 259.0,531.28 258.0,531.26 257.0,531.23 256.0,531.20 255.0,531.18 254.0,531.15 253.0,531.13 252.0,531.10 251.0,531.08 250.0,531.05 249.0,531.03 248.0,531.01 247.0,530.98 246.0,530.96 245.0,530.93 244.0,530.91 243.0,530.89 242.0,530.87 241.0,530.84 240.0,530.82 239.0,530.80 238.0,530.78 237.0,530.76 236.0,530.73 235.0,530.71 234.0,530.69 233.0,530.67 232.0,530.65 231.0,530.63 230.0,530.61 229.0,530.59 228.0,530.57 227.0,530.55 226.0,530.53 225.0,530.51 224.0,530.49 223.0,530.48 222.0,530.46 221.0,530.44 220.0,530.42 219.0,530.40 218.0,530.39 217.0,530.37 216.0,530.35 215.0,530.33 214.0,530.32 213.0,530.30 212.0,530.28 211.0,530.27 210.0,530.25 209.0,530.24 208.0,530.22 207.0,530.21 206.0,530.19 205.0,530.18 204.0,530.16 203.0,530.15 202.0,530.13 201.0,530.12 200.0,530.10 199.0,530.09 198.0,530.07 197.0,530.06 196.0,530.05 195.0,530.03 194.0,530.02 193.0,530.01 192.0,529.99 191.0,529.98 190.0,529.97 189.0,529.96 188.0,529.94 187.0,529.93 186.0,529.92 185.0,529.91 184.0,529.90 183.0,529.89 182.0,529.87 181.0,529.86 180.0,529.85 179.0,529.84 178.0,529.83 177.0,529.82 176.0,529.81 175.0,529.80 174.0,529.79 173.0,529.78 172.0,529.77 171.0,529.76 170.0,529.75 169.0,529.74 168.0,529.73 167.0,529.72 166.0,529.71 165.0,529.70 164.0,529.69 163.0,529.69 162.0,529.68 161.0,529.67 160.0,529.66"/>
<path d="M160.0,743.40 L164.0,743.91 L168.0,744.43 L172.0,744.95 L176.0,745.49 L180.0,746.03 L184.0,746.59 L188.0,747.15 L192.0,747.71 L196.0,748.28 L200.0,748.86 L204.0,749.43 L208.0,750.00 L212.0,750.56 L216.0,751.12 L220.0,751.67 L224.0,752.21 L228.0,752.74 L232.0,753.25 L236.0,753.75 L240.0,754.24 L244.0,754.72 L248.0,755.18 L252.0,755.65 L256.0,756.11 L260.0,756.58 L264.0,757.05 L268.0,757.52 L272.0,758.00 L276.0,758.50 L280.0,759.01 L284.0,759.52 L288.0,760.04 L292.0,760.56 L296.0,761.09 L300.0,761.62 L304.0,762.16 L308.0,762.70 L312.0,763.24 L316.0,763.78 L320.0,764.33 L324.0,764.88 L328.0,765.43 L332.0,765.99 L336.0,766.54 L340.0,767.10 L344.0,767.66 L348.0,768.21 L352.0,768.77 L356.0,769.32 L360.0,769.88 L364.0,770.43 L368.0,770.98 L372.0,771.54 L376.0,772.10 L380.0,772.66 L384.0,773.22 L388.0,773.79 L392.0,774.35 L396.0,774.92 L400.0,775.49 L404.0,776.05 L408.0,776.62 L412.0,777.19 L416.0,777.76 L420.0,778.32 L424.0,778.89 L428.0,779.45 L432.0,780.02 L436.0,780.58 L440.0,781.14 L444.0,781.69 L448.0,782.25 L452.0,782.80 L456.0,783.35 L460.0,783.89 L464.0,784.44 L468.0,784.98 L472.0,785.52 L476.0,786.05 L480.0,786.59 L484.0,787.13 L488.0,787.66 L492.0,788.19 L496.0,788.73 L500.0,789.26 L504.0,789.79 L508.0,790.32 L512.0,790.86 L516.0,791.39 L520.0,791.93 L524.0,792.47 L528.0,793.01 L532.0,793.55 L536.0,794.09 L540.0,794.64 L544.0,795.19 L548.0,795.75 L552.0,796.31 L556.0,796.87 L560.0,797.43 L564.0,797.99 L568.0,798.55 L572.0,799.10 L576.0,799.65 L580.0,800.20 L584.0,800.74 L588.0,801.28 L592.0,801.82 L596.0,802.36 L600.0,802.90 L604.0,803.43 L608.0,803.97 L612.0,804.50 L616.0,805.03 L620.0,805.57 L624.0,806.09 L628.0,806.62 L632.0,807.15 L636.0,807.67 L640.0,808.19 L644.0,808.71 L648.0,809.23 L652.0,809.75 L656.0,810.26 L660.0,810.77 L664.0,811.28 L668.0,811.79 L672.0,812.30 L676.0,812.80 L680.0,813.30 L684.0,813.80 L688.0,814.29 L692.0,814.79 L696.0,815.28 L700.0,815.77 L704.0,816.25 L708.0,816.74 L712.0,817.22 L716.0,817.70 L720.0,818.18 L724.0,818.66 L728.0,819.14 L732.0,819.62 L736.0,820.09 L740.0,820.57 L744.0,821.04 L748.0,821.51 L752.0,821.98 L756.0,822.45 L760.0,822.92 L764.0,823.39 L768.0,823.86 L772.0,824.33 L776.0,824.79 L780.0,825.26 L784.0,825.73 L788.0,826.20 L792.0,826.66 L796.0,827.13 L800.0,827.60 L804.0,828.07 L808.0,828.53 L812.0,829.00 L816.0,829.46 L820.0,829.92 L824.0,830.38 L828.0,830.84 L832.0,831.30 L836.0,831.76 L840.0,832.22 L844.0,832.67 L848.0,833.13 L852.0,833.59 L856.0,834.04 L860.0,834.50 L864.0,834.95 L868.0,835.41 L872.0,835.87 L876.0,836.32 L880.0,836.78 L884.0,837.24 L888.0,837.70 L892.0,838.16 L896.0,838.62 L900.0,839.08 L904.0,839.54 L908.0,840.01 L912.0,840.47 L916.0,840.94 L920.0,841.41 L924.0,841.87 L928.0,842.34 L932.0,842.80 L936.0,843.27 L940.0,843.74 L944.0,844.21 L948.0,844.68 L952.0,845.15 L956.0,845.62 L960.0,846.09 L964.0,846.57 L968.0,847.05 L972.0,847.53 L976.0,848.01 L980.0,848.50 L984.0,848.99 L988.0,849.48 L992.0,849.98 L996.0,850.47 L1000.0,850.97 L1004.0,851.47 L1008.0,851.97 L1012.0,852.47 L1016.0,852.98 L1020.0,853.49 L1024.0,853.99 L1028.0,854.50 L1032.0,855.01 L1036.0,855.53 L1040.0,856.04 L1044.0,856.55 L1048.0,857.07 L1052.0,857.58 L1056.0,858.10 L1060.0,858.61 L1064.0,859.13 L1068.0,859.64 L1072.0,860.16 L1076.0,860.68 L1080.0,861.19 L1084.0,861.71 L1088.0,862.22 L1092.0,862.74 L1096.0,863.25 L1100.0,863.77 L1104.0,864.28 L1108.0,864.80 L1112.0,865.32 L1116.0,865.83 L1120.0,866.35 L1124.0,866.87 L1128.0,867.39 L1132.0,867.91 L1136.0,868.43 L1140.0,868.95 L1144.0,869.47 L1148.0,869.99 L1152.0,870.51 L1156.0,871.03 L1160.0,871.55 L1164.0,872.07 L1168.0,872.59 L1172.0,873.12 L1176.0,873.64 L1180.0,874.16 L1184.0,874.68 L1188.0,875.21 L1192.0,875.73 L1196.0,876.26 L1200.0,876.78 L1204.0,877.30 L1208.0,877.83 L1212.0,878.35 L1216.0,878.88 L1220.0,879.40 L1224.0,879.93 L1228.0,880.45 L1232.0,880.98 L1236.0,881.50 L1240.0,882.03 L1244.0,882.56 L1248.0,883.08 L1252.0,883.61 L1256.0,884.14 L1260.0,884.66 L1264.0,885.19 L1268.0,885.72 L1272.0,886.25 L1276.0,886.78 L1280.0,887.31 L1284.0,887.83 L1288.0,888.36 L1292.0,888.89 L1296.0,889.43 L1300.0,889.96 L1304.0,890.49 L1308.0,891.02 L1312.0,891.55 L1316.0,892.08 L1320.0,892.62 L1324.0,893.15 L1328.0,893.68 L1332.0,894.22 L1336.0,894.75 L1340.0,895.29 L1344.0,895.82 L1348.0,896.36 L1352.0,896.90 L1356.0,897.43 L1360.0,897.97 L1364.0,898.51 L1368.0,899.05 L1372.0,899.59 L1376.0,900.13 L1380.0,900.67 L1384.0,901.22 L1388.0,901.76 L1392.0,902.30 L1396.0,902.85 L1400.0,903.40" fill="none" stroke="#7b4a4a" stroke-width="23.8" stroke-linejoin="round"/>
</g>
<text transform="translate(172.00,1078) scale(1,1.045)" font-size="54" text-anchor="middle">1.4</text>
<text transform="translate(345.86,1078) scale(1,1.045)" font-size="54" text-anchor="middle">1.5</text>
<text transform="translate(519.71,1078) scale(1,1.045)" font-size="54" text-anchor="middle">1.6</text>
<text transform="translate(693.57,1078) scale(1,1.045)" font-size="54" text-anchor="middle">1.7</text>
<text transform="translate(867.43,1078) scale(1,1.045)" font-size="54" text-anchor="middle">1.8</text>
<text transform="translate(1041.29,1078) scale(1,1.045)" font-size="54" text-anchor="middle">1.9</text>
<text transform="translate(1215.14,1078) scale(1,1.045)" font-size="54" text-anchor="middle">2.0</text>
<text transform="translate(1386.00,1078) scale(1,1.045)" font-size="54" text-anchor="middle">2.1</text>
<text transform="translate(65.5,293.0) scale(1,1.05)" font-size="54">10</text>
<text transform="translate(119.4,271.0) scale(0.945,1.06)" font-size="37">-3</text>
<text transform="translate(65.5,1035.0) scale(1,1.05)" font-size="54">10</text>
<text transform="translate(119.4,1011.8) scale(1.0,1.05)" font-size="37">-4</text>
<text x="674" y="1164.4" font-size="51" xml:space="preserve">WL  [μm]</text>
<text transform="translate(65,518.5) rotate(-90)" font-size="57" text-anchor="middle">BI</text>
<rect x="197.7" y="269.8" width="191.8" height="155.2" fill="#fff" stroke="#000" stroke-width="1.5"/>
<polygon fill="#6e3608" points="201.8,305.5 204,303.1 248.2,303.1 248.2,306.5 246.8,307.9 204,307.9"/><polygon fill="#6e3608" points="274,303.1 321,303.1 321,306.5 319.6,307.9 276,307.9 274,306.5"/>
<circle cx="261.4" cy="304.4" r="11.65" fill="#7b4a4a"/>
<polygon fill="#000" points="201.8,379.6 204,377.20000000000005 248.2,377.20000000000005 248.2,380.6 246.8,382.0 204,382.0"/><polygon fill="#000" points="274,377.20000000000005 321,377.20000000000005 321,380.6 319.6,382.0 276,382.0 274,380.6"/>
<rect x="251" y="369" width="21" height="20.8" fill="#000"/>
<text x="330.4" y="321.3" font-size="51">B<tspan font-size="35" dy="13.6">p</tspan></text>
<text x="332.6" y="396" font-size="48.5">B<tspan font-size="35" dy="14.2" dx="0.2">g</tspan></text>
</svg></body></html>
